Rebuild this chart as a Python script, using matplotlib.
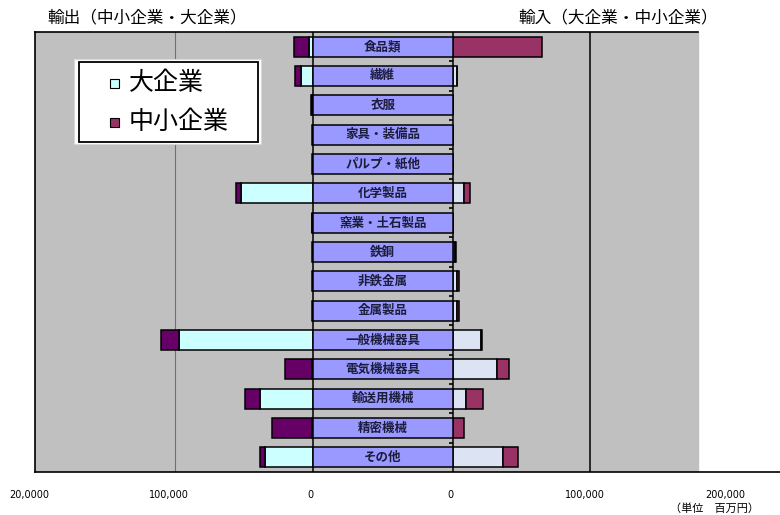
import numpy as np
import matplotlib.pyplot as plt
from matplotlib.patches import Rectangle
from matplotlib.transforms import ScaledTranslation

plt.rcParams['font.family'] = ['Noto Sans CJK JP', 'DejaVu Sans']

# data (百万円)
categories = ['食品類', '繊維', '衣服', '家具・装備品', 'パルプ・紙他', '化学製品',
              '窯業・土石製品', '鉄鋼', '非鉄金属', '金属製品', '一般機械器具',
              '電気機械器具', '輸送用機械', '精密機械', 'その他']
export_large = [2900, 8200, 500, 0, 0, 51900, 300, 0, 0, 0, 97500, 700, 38200, 400, 34600]
export_sme = [10400, 4900, 500, 500, 500, 3600, 500, 500, 500, 500, 13100, 19600, 10900, 29100, 4000]
import_large = [400, 2900, 0, 0, 0, 8400, 0, 1500, 3000, 3000, 20700, 32400, 9500, 300, 36700]
import_sme = [64700, 300, 300, 300, 300, 4400, 300, 1000, 1500, 1500, 700, 8400, 12400, 8000, 10900]
tick_pos = [-200000, -100000, 0, 102000, 202000, 302000]
tick_labels = ['20,0000', '100,000', '0', '0', '100,000', '200,000']
legend_labels = ['大企業', '中小企業']

BOX_W = 102000      # width of the centre label column in data units
GRAY_END = 280000

c_exp_large = '#CCFFFF'
c_exp_sme = '#660066'
c_imp_large = '#DCE3F2'
c_imp_sme = '#993366'
c_box = '#9999FF'

y = np.arange(len(categories))
el = np.array(export_large)
es = np.array(export_sme)
il = np.array(import_large)
ism = np.array(import_sme)

fig = plt.figure(figsize=(7.8, 5.15), dpi=100)
ax = fig.add_axes([35 / 780, (515 - 472) / 515, 745 / 780, 440 / 515])
ax.set_facecolor('white')
ax.axvspan(-202000, GRAY_END, color='#C0C0C0', zorder=0)

h = 0.68
kw = dict(height=h, edgecolor='black', linewidth=1.1, zorder=3)
ax.barh(y, -el, left=0, color=c_exp_large, **kw)
ax.barh(y, -es, left=-el, color=c_exp_sme, **kw)
ax.barh(y, il, left=BOX_W, color=c_imp_large, **kw)
ax.barh(y, ism, left=BOX_W + il, color=c_imp_sme, **kw)
ax.barh(y, BOX_W, left=0, color=c_box, **kw)

for yi, name in zip(y, categories):
    ax.text(BOX_W / 2, yi, name, ha='center', va='center', fontsize=9,
            color='#1c1c3c', fontweight='bold', zorder=4)

# vertical lines
ax.axvline(-100000, color='#707070', linewidth=0.8, zorder=1)
ax.axvline(0, color='black', linewidth=1.1, zorder=2)
ax.axvline(BOX_W, color='black', linewidth=1.1, zorder=2)
ax.axvline(BOX_W + 100000, color='black', linewidth=1.1, zorder=1)
ax.hlines(y[:-1] + 0.5, BOX_W - 3000, BOX_W, color='black', linewidth=1.2, zorder=2)
ax.plot([-202000, GRAY_END], [-0.5, -0.5], color='black', linewidth=1.2,
        clip_on=False, zorder=5)

ax.set_xlim(-202000, 340000)
ax.set_ylim(14.5, -0.5)
ax.set_yticks([])
ax.set_xticks(tick_pos)
ax.set_xticklabels(tick_labels, fontsize=7, family='DejaVu Sans')
ax.tick_params(axis='x', length=0, pad=13)
shifts = [-8, -6, -2, -2, -5, -3]
for lab, dx in zip(ax.get_xticklabels(), shifts):
    lab.set_transform(lab.get_transform() + ScaledTranslation(dx / 100, 0, fig.dpi_scale_trans))
for s in ['top', 'right']:
    ax.spines[s].set_visible(False)
ax.spines['left'].set_linewidth(1.2)
ax.spines['bottom'].set_linewidth(1.2)

fig.text(47 / 780, 1 - 18 / 515, '輸出（中小企業・大企業）', fontsize=12, va='center', ha='left')
fig.text(718 / 780, 1 - 18 / 515, '輸入（大企業・中小企業）', fontsize=12, va='center', ha='right')
fig.text(714 / 780, 1 - 509 / 515, '（単位　百万円）', fontsize=8, va='center', ha='center')

# legend box drawn by hand (white glow + black frame)
def fx(px):
    return px / 780


def fy(py):
    return 1 - py / 515


fig.add_artist(Rectangle((fx(74), fy(144)), fx(261) - fx(74), fy(59) - fy(144),
                         transform=fig.transFigure, facecolor='white',
                         edgecolor='#d8d8d8', linewidth=0.8, zorder=6))
fig.add_artist(Rectangle((fx(78.5), fy(142)), fx(257.5) - fx(78.5), fy(62) - fy(142),
                         transform=fig.transFigure, facecolor='white',
                         edgecolor='black', linewidth=1.3, zorder=7))
for py, col, lab in zip([83, 122], [c_exp_large, c_imp_sme], legend_labels):
    fig.add_artist(Rectangle((fx(110), fy(py + 4.5)), fx(119) - fx(110), fy(py - 4.5) - fy(py + 4.5),
                             transform=fig.transFigure, facecolor=col,
                             edgecolor='black', linewidth=0.8, zorder=8))
    fig.text(fx(129), fy(py), lab, fontsize=18, va='center', ha='left', zorder=8)

fig.savefig('out.png', dpi=100)
